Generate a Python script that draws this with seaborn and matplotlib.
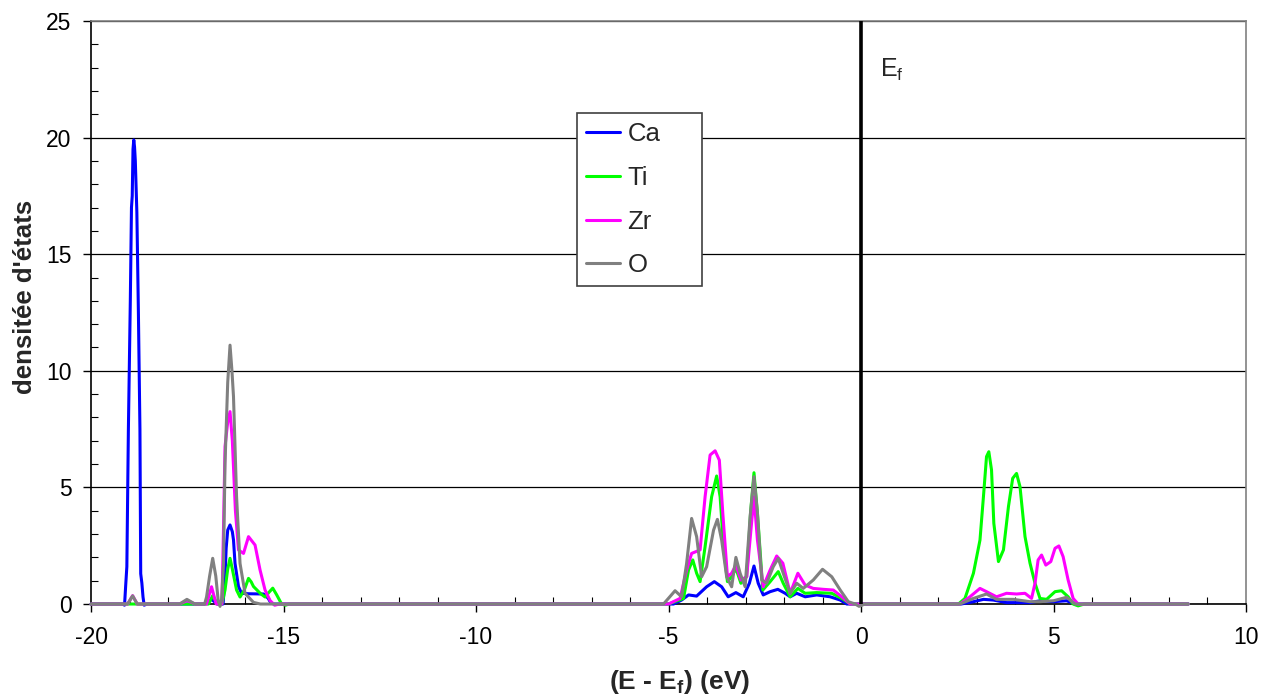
"""Densité d'états partielle - Ca, Ti, Zr, O"""
import seaborn as sns
import matplotlib.pyplot as plt
import matplotlib.ticker as mticker
import pandas as pd

sns.set_theme(style='white')
plt.rcParams['font.family'] = ['Liberation Sans', 'DejaVu Sans']
plt.rcParams['mathtext.fontset'] = 'custom'
plt.rcParams['mathtext.rm'] = 'Liberation Sans'
plt.rcParams['mathtext.bf'] = 'Liberation Sans:bold'
plt.rcParams['axes.unicode_minus'] = False

BLUE, GREEN, MAGENTA, GREY = '#0000ff', '#00ff00', '#ff00ff', '#808080'

# --- data (E - Ef in eV, DOS) ---
ca_E = [-20.0, -19.18, -19.13, -19.1, -19.07, -19.03, -18.98, -18.95, -18.93, -18.91,
        -18.89, -18.87, -18.85, -18.81, -18.77, -18.73, -18.71, -18.68, -18.65, -18.62,
        -18.55,
        -17.05, -16.87, -16.72, -16.57, -16.52, -16.49, -16.45, -16.39, -16.33, -16.30,
        -16.26, -16.17, -16.09, -15.9, -15.52, -15.4, -15.33, -15.25,
        -5.0, -4.87, -4.66, -4.48, -4.27, -4.01, -3.81, -3.62, -3.45, -3.25, -3.06,
        -2.90, -2.78, -2.67, -2.54, -2.36, -2.16, -1.97, -1.84, -1.67, -1.45, -1.15,
        -0.80, -0.54, -0.37,
        2.6, 2.92, 3.18, 3.44, 3.78, 4.39, 4.65, 5.0, 5.34, 5.56, 8.5]
ca_dos = [0, 0, -0.05, 0.8, 1.6, 7.5, 13.0, 17.0, 17.5, 19.5,
          19.9, 19.6, 19.0, 16.8, 12.5, 7.5, 1.3, 0.9, 0.3, -0.05,
          0,
          0, 0.2, 0, 0, 1.2, 2.4, 3.17, 3.39, 3.1, 2.75,
          1.74, 0.75, 0.46, 0.44, 0.43, 0.25, 0.05, 0,
          0, 0, 0.17, 0.39, 0.34, 0.74, 0.96, 0.74, 0.31, 0.49, 0.31,
          0.89, 1.63, 0.89, 0.39, 0.53, 0.63, 0.46, 0.31, 0.46, 0.31, 0.39,
          0.31, 0.17, 0,
          0, 0.1, 0.2, 0.17, 0.06, 0.06, 0.14, 0.1, 0.14, 0, 0]

ti_E = [-20.0, -16.95, -16.84, -16.72, -16.6, -16.52, -16.45, -16.39, -16.33, -16.22,
        -16.13, -16.02, -15.91, -15.84, -15.78, -15.6, -15.48, -15.38, -15.28, -15.18,
        -15.05, -14.95, -14.85,
        -5.0, -4.61, -4.48, -4.37, -4.27, -4.18, -4.05, -3.88, -3.75, -3.66, -3.57,
        -3.47, -3.36, -3.25, -3.12, -2.97, -2.87, -2.78, -2.69, -2.55, -2.36, -2.15,
        -2.02, -1.84, -1.64, -1.45, -1.15, -0.76, -0.50, -0.28,
        2.53, 2.70, 2.92, 3.09, 3.18, 3.26, 3.32, 3.39, 3.45, 3.57, 3.70, 3.83, 3.94,
        4.04, 4.13, 4.26, 4.39, 4.52, 4.65, 4.82, 5.04, 5.21, 5.38, 5.51, 5.64, 5.8, 8.5]
ti_dos = [0, 0, 0.36, 0, 0, 0.6, 1.5, 1.96, 1.5, 0.6,
          0.3, 0.6, 1.1, 0.95, 0.75, 0.45, 0.3, 0.5, 0.68, 0.4,
          0, -0.05, 0,
          0, 0.24, 1.46, 1.89, 1.32, 0.96, 2.46, 4.6, 5.49, 4.6, 2.46,
          0.96, 1.17, 1.53, 0.89, 1.17, 3.89, 5.63, 3.89, 0.6, 0.96, 1.39,
          0.89, 0.31, 0.67, 0.46, 0.49, 0.46, 0.24, 0,
          0, 0.24, 1.32, 2.74, 4.6, 6.32, 6.53, 5.75, 3.46, 1.82, 2.32, 4.18, 5.39,
          5.6, 5.03, 2.89, 1.75, 0.89, 0.24, 0.2, 0.53, 0.57, 0.31, 0, -0.08, 0, 0]

zr_E = [-20.0, -19.05, -18.92, -18.8, -17.7, -17.5, -17.3, -17.0, -16.87, -16.75,
        -16.6, -16.56, -16.52, -16.45, -16.39, -16.33, -16.25, -16.17, -16.04, -15.91,
        -15.74, -15.61, -15.48, -15.35, -15.23, -15.1,
        -5.0, -4.70, -4.53, -4.40, -4.18, -4.05, -3.92, -3.79, -3.68, -3.59, -3.47,
        -3.36, -3.25, -3.12, -2.97, -2.86, -2.78, -2.69, -2.54, -2.36, -2.19, -2.03,
        -1.84, -1.64, -1.45, -1.24, -0.98, -0.72, -0.50, -0.28,
        2.57, 2.83, 3.09, 3.26, 3.52, 3.78, 4.04, 4.26, 4.43, 4.52, 4.60, 4.69, 4.80,
        4.93, 5.04, 5.14, 5.25, 5.38, 5.51, 5.64, 8.5]
zr_dos = [0, 0, 0.36, 0, 0, 0.15, 0, 0, 0.74, 0,
          0, 3.17, 6.75, 7.8, 8.25, 7.0, 4.0, 2.32, 2.17, 2.89,
          2.53, 1.46, 0.6, 0.15, -0.05, 0,
          0, 0.24, 1.46, 2.17, 2.32, 4.6, 6.39, 6.57, 6.17, 3.89, 1.17,
          1.32, 1.67, 1.03, 1.17, 3.17, 4.6, 2.74, 0.74, 1.46, 2.06, 1.75,
          0.46, 1.32, 0.81, 0.67, 0.63, 0.6, 0.31, 0,
          0, 0.31, 0.67, 0.53, 0.31, 0.46, 0.43, 0.46, 0.24, 0.89, 1.89, 2.1, 1.67,
          1.82, 2.39, 2.49, 2.03, 1.03, 0.24, 0, 0]

o_E = [-20.0, -19.05, -18.92, -18.8, -17.7, -17.51, -17.3, -17.05, -17.0, -16.92,
       -16.84, -16.76, -16.70, -16.65, -16.61, -16.56, -16.52, -16.45, -16.39, -16.34,
       -16.30, -16.22, -16.13, -16.0, -15.78, -15.6,
       -5.2, -5.13, -4.83, -4.66, -4.53, -4.40, -4.27, -4.14, -4.01, -3.83, -3.73,
       -3.62, -3.49, -3.36, -3.25, -3.14, -3.01, -2.88, -2.78, -2.69, -2.58, -2.45,
       -2.28, -2.15, -2.02, -1.84, -1.67, -1.50, -1.24, -1.0, -0.76, -0.54, -0.33,
       -0.15, -0.05, 0.1,
       2.57, 2.92, 3.26, 3.52, 3.96, 4.39, 4.65, 5.0, 5.34, 5.56, 8.5]
o_dos = [0, 0, 0.35, 0, 0, 0.2, 0, 0, 0.3, 1.2,
         1.96, 1.2, 0.2, -0.1, 0.17, 1.74, 6.03, 9.5, 11.1, 10.0,
         8.9, 4.6, 1.74, 0.46, 0.07, 0,
         0, 0, 0.57, 0.31, 1.74, 3.67, 2.89, 1.17, 1.6, 3.17, 3.63,
         2.74, 1.17, 0.74, 2.0, 1.32, 0.74, 3.75, 5.46, 3.89, 1.03, 0.89,
         1.6, 1.96, 1.32, 0.46, 0.89, 0.67, 1.03, 1.49, 1.17, 0.6, 0.1,
         0, -0.1, 0,
         0, 0.24, 0.43, 0.2, 0.2, 0.1, 0.1, 0.14, 0.29, 0, 0]

species = ['Ca', 'Ti', 'Zr', 'O']
series = [(ca_E, ca_dos), (ti_E, ti_dos), (zr_E, zr_dos), (o_E, o_dos)]
frames = [pd.DataFrame({'E': e, 'DOS': d, 'Atome': s}) for s, (e, d) in zip(species, series)]
df = pd.concat(frames, ignore_index=True)

fig = plt.figure(figsize=(12.61, 6.95), dpi=100, facecolor='white')
ax = fig.add_axes([0.0722, 0.1309, 0.9159, 0.8389])

sns.lineplot(data=df, x='E', y='DOS', hue='Atome', hue_order=species,
             palette=[BLUE, GREEN, MAGENTA, GREY], estimator=None, sort=True,
             lw=2.2, ax=ax, clip_on=False, zorder=3)

ax.axvline(0, color='black', lw=2.6, zorder=4)
ax.text(0.49, 22.9, r'E$_\mathrm{f}$', fontsize=18, ha='left', va='center')

ax.set_xlim(-20, 10)
ax.set_ylim(0, 25)
ax.xaxis.set_major_locator(mticker.MultipleLocator(5))
ax.xaxis.set_minor_locator(mticker.MultipleLocator(1))
ax.yaxis.set_major_locator(mticker.MultipleLocator(5))
ax.yaxis.set_minor_locator(mticker.MultipleLocator(1))
ax.tick_params(which='major', direction='out', length=6, width=1, color='black',
               labelsize=16.5, labelcolor='black', left=True, bottom=True)
ax.tick_params(axis='x', which='major', pad=10)
ax.tick_params(axis='y', which='major', pad=8)
ax.tick_params(which='minor', direction='in', length=5, width=0.8, color='black',
               left=True, bottom=True)
ax.grid(axis='y', which='major', color='black', lw=0.9)
ax.grid(axis='x', visible=False)

for side in ['left', 'bottom']:
    ax.spines[side].set_color('black')
    ax.spines[side].set_linewidth(1.2)
for side in ['top', 'right']:
    ax.spines[side].set_color(GREY)
    ax.spines[side].set_linewidth(1.2)

ax.set_xlabel(r'(E - E$_\mathbf{f}$) (eV)', fontsize=19, fontweight='bold')
ax.xaxis.set_label_coords(0.510, -0.109)
ax.set_ylabel("densitée d'états", fontsize=18.5, fontweight='bold')
ax.yaxis.set_label_coords(-0.047, 0.527)

handles, labels = ax.get_legend_handles_labels()
leg = ax.legend(handles, labels, loc='upper left',
                bbox_to_anchor=(0.421, 0.55, 0.108, 0.292), mode='expand',
                borderaxespad=0, fontsize=18.5, frameon=True, fancybox=False,
                edgecolor='#404040', framealpha=1, handlelength=1.3,
                handletextpad=0.3, labelspacing=0.77, borderpad=0.35)
leg.get_frame().set_linewidth(1.2)
for line in leg.get_lines():
    line.set_linewidth(2.2)

plt.savefig('out.png', dpi=100, facecolor='white')
